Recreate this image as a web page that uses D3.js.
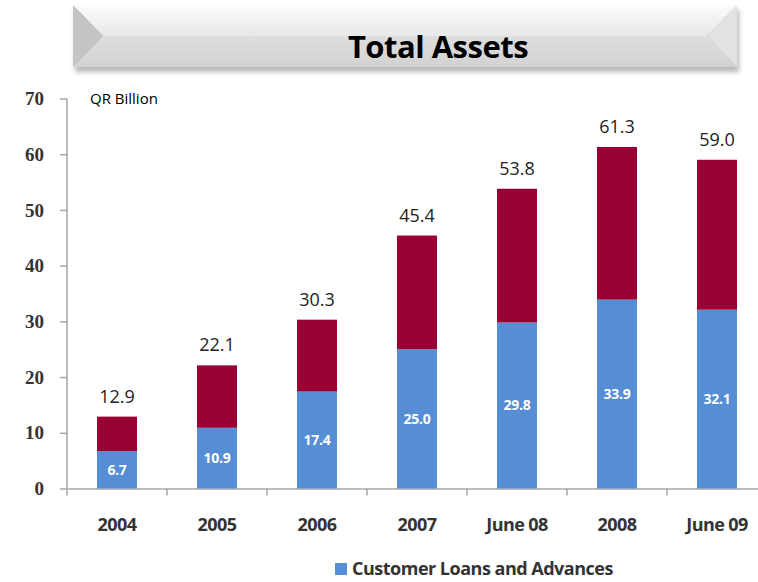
<!DOCTYPE html>
<html>
<head>
<meta charset="utf-8">
<script src="https://cdn.jsdelivr.net/npm/d3@7"></script>
<style>
  body { margin: 0; background: #fff; }
  svg { display: block; }
</style>
</head>
<body>
<div id="chart"></div>
<script>
(function() {
	var width = 758,
		height = 582;

	// data
	var categories = ["2004", "2005", "2006", "2007", "June 08", "2008", "June 09"];
	var loans = [6.7, 10.9, 17.4, 25.0, 29.8, 33.9, 32.1];
	var others = [6.2, 11.2, 12.9, 20.4, 24.0, 27.4, 26.9];
	var totals = [12.9, 22.1, 30.3, 45.4, 53.8, 61.3, 59.0];
	var yTicks = [0, 10, 20, 30, 40, 50, 60, 70];

	var blue = "#558ed5",
		maroon = "#990033";

	var svg = d3.select("#chart")
		.append("svg")
		.attr("width", width)
		.attr("height", height);

	var defs = svg.append("defs");

	// title box gradients
	var gTop = defs.append("linearGradient").attr("id", "gTop").attr("x1", 0).attr("y1", 0).attr("x2", 0).attr("y2", 1);
	gTop.append("stop").attr("offset", "0%").attr("stop-color", "#fbfbfb");
	gTop.append("stop").attr("offset", "100%").attr("stop-color", "#e8e8e8");
	var gBot = defs.append("linearGradient").attr("id", "gBot").attr("x1", 0).attr("y1", 0).attr("x2", 0).attr("y2", 1);
	gBot.append("stop").attr("offset", "0%").attr("stop-color", "#dedede");
	gBot.append("stop").attr("offset", "100%").attr("stop-color", "#d2d2d2");
	var shadow = defs.append("filter").attr("id", "shadow").attr("x", "-5%").attr("y", "-20%").attr("width", "110%").attr("height", "160%");
	shadow.append("feGaussianBlur").attr("stdDeviation", 2.5);

	// title box (bevel)
	var bx0 = 73, bx1 = 737, by0 = 5, by1 = 67, inset = 30, mid = (by0 + by1) / 2;
	var title = svg.append("g");
	title.append("rect")
		.attr("x", bx0 + 2).attr("y", by0 + 5)
		.attr("width", bx1 - bx0).attr("height", by1 - by0)
		.attr("fill", "#888").attr("opacity", 0.6)
		.attr("filter", "url(#shadow)");
	title.append("polygon")
		.attr("points", [[bx0, by0], [bx1, by0], [bx1 - inset, mid], [bx0 + inset, mid]].join(" "))
		.attr("fill", "url(#gTop)");
	title.append("polygon")
		.attr("points", [[bx0, by1], [bx1, by1], [bx1 - inset, mid], [bx0 + inset, mid]].join(" "))
		.attr("fill", "url(#gBot)");
	title.append("polygon")
		.attr("points", [[bx0, by0], [bx0 + inset, mid], [bx0, by1]].join(" "))
		.attr("fill", "#c4c4c4");
	title.append("polygon")
		.attr("points", [[bx1, by0], [bx1 - inset, mid], [bx1, by1]].join(" "))
		.attr("fill", "#e2e2e2");
	title.append("text")
		.attr("x", 438).attr("y", 58)
		.attr("text-anchor", "middle")
		.attr("font-family", "'Open Sans', sans-serif")
		.attr("font-weight", "bold")
		.attr("font-size", 31)
		.attr("letter-spacing", "-0.5px")
		.attr("fill", "#000")
		.text("Total Assets");

	// scales
	var x = d3.scaleBand()
		.domain(categories)
		.range([67, 767])
		.paddingInner(0.6)
		.paddingOuter(0.3);

	var y = d3.scaleLinear()
		.domain([0, 70])
		.range([488.5, 98.5]);

	// y axis
	var yAxis = svg.append("g")
		.attr("transform", "translate(67,0)")
		.call(d3.axisLeft(y).tickValues(yTicks).tickSize(7).tickPadding(16));
	yAxis.selectAll("line, path").attr("stroke", "#a6a6a6").attr("stroke-width", 1.5);
	yAxis.select(".domain").attr("d", "M0," + y(70) + "V" + y(0));
	yAxis.selectAll("text")
		.attr("font-family", "'Liberation Serif', serif")
		.attr("font-weight", "bold")
		.attr("font-size", 19)
		.attr("fill", "#333");

	svg.append("text")
		.attr("x", 90).attr("y", 104)
		.attr("font-family", "'Open Sans', sans-serif")
		.attr("font-size", 15)
		.attr("fill", "#000")
		.text("QR Billion");

	// x axis: labels centred in bands, ticks at band boundaries
	var xAxis = svg.append("g")
		.attr("transform", "translate(0," + y(0) + ")")
		.call(d3.axisBottom(x).tickSize(0).tickPadding(30));
	xAxis.select(".domain").attr("stroke", "#a6a6a6").attr("stroke-width", 1.5);
	xAxis.selectAll("text")
		.attr("font-family", "'Open Sans', sans-serif")
		.attr("font-weight", "bold")
		.attr("font-size", 18)
		.attr("letter-spacing", "-0.6px")
		.attr("fill", "#333");
	xAxis.selectAll(".bound")
		.data(categories)
		.enter().append("line")
		.attr("class", "bound")
		.attr("x1", function(d) { return x(d) - x.step() * x.paddingInner() / 2; })
		.attr("x2", function(d) { return x(d) - x.step() * x.paddingInner() / 2; })
		.attr("y1", 0).attr("y2", 7)
		.attr("stroke", "#a6a6a6").attr("stroke-width", 1.5);

	// bars
	var bars = svg.selectAll(".bar")
		.data(categories)
		.enter().append("g")
		.attr("class", "bar");

	bars.append("rect")
		.attr("x", function(d) { return x(d); })
		.attr("width", x.bandwidth())
		.attr("y", function(d, i) { return y(loans[i]); })
		.attr("height", function(d, i) { return y(0) - y(loans[i]); })
		.attr("fill", blue);

	bars.append("rect")
		.attr("x", function(d) { return x(d); })
		.attr("width", x.bandwidth())
		.attr("y", function(d, i) { return y(loans[i] + others[i]); })
		.attr("height", function(d, i) { return y(loans[i]) - y(loans[i] + others[i]); })
		.attr("fill", maroon);

	// value inside blue part
	bars.append("text")
		.attr("x", function(d) { return x(d) + x.bandwidth() / 2; })
		.attr("y", function(d, i) { return (y(0) + y(loans[i])) / 2 + 5; })
		.attr("text-anchor", "middle")
		.attr("font-family", "'Open Sans', sans-serif")
		.attr("font-weight", "bold")
		.attr("font-size", 14)
		.attr("letter-spacing", "-0.3px")
		.attr("fill", "#fff")
		.text(function(d, i) { return loans[i].toFixed(1); });

	// total on top
	bars.append("text")
		.attr("x", function(d) { return x(d) + x.bandwidth() / 2; })
		.attr("y", function(d, i) { return y(totals[i]) - 14; })
		.attr("text-anchor", "middle")
		.attr("font-family", "'Open Sans', sans-serif")
		.attr("font-size", 18)
		.attr("fill", "#222")
		.text(function(d, i) { return totals[i].toFixed(1); });

	// legend
	var legend = svg.append("g").attr("transform", "translate(335,563)");
	legend.append("rect")
		.attr("width", 12).attr("height", 12)
		.attr("fill", blue);
	legend.append("text")
		.attr("x", 17).attr("y", 12)
		.attr("font-family", "'Open Sans', sans-serif")
		.attr("font-weight", "bold")
		.attr("font-size", 18)
		.attr("letter-spacing", "-0.5px")
		.attr("fill", "#333")
		.text("Customer Loans and Advances");
})();
</script>
</body>
</html>
